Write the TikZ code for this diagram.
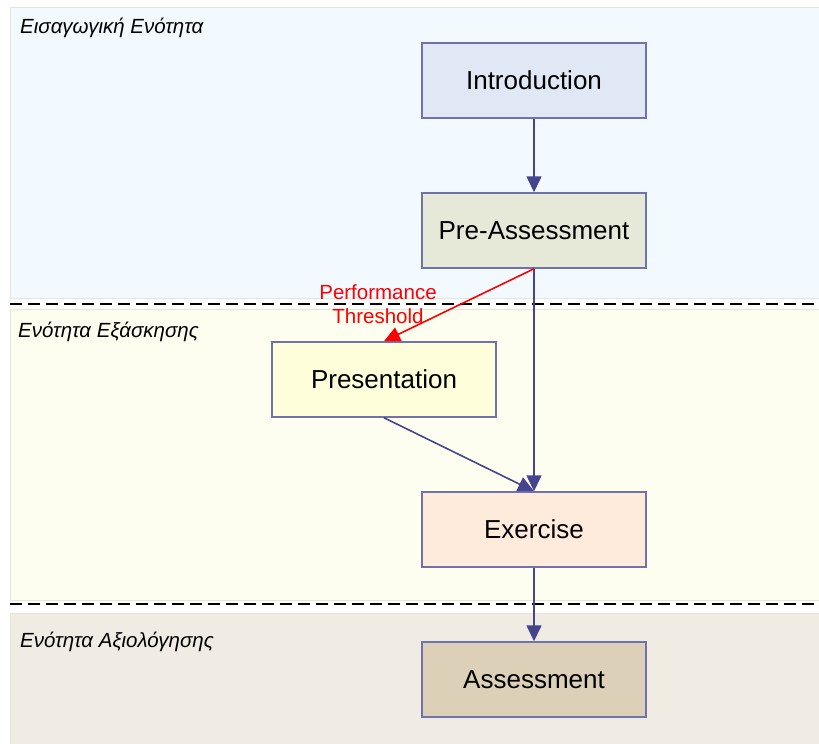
\documentclass[tikz,border=0pt]{standalone}
\usepackage{fontspec}
\setmainfont{Liberation Sans}
\usetikzlibrary{arrows.meta}
\definecolor{edgeblue}{HTML}{45458F}
\definecolor{boxline}{HTML}{7272AA}
\definecolor{secA}{HTML}{F3FAFF}
\definecolor{secB}{HTML}{FEFEF0}
\definecolor{secC}{HTML}{F0ECE3}
\definecolor{secline}{HTML}{E2E8D8}
\definecolor{fIntro}{HTML}{E0E8F6}
\definecolor{fPre}{HTML}{E6E8D8}
\definecolor{fPres}{HTML}{FEFEDA}
\definecolor{fEx}{HTML}{FFEBDC}
\definecolor{fAss}{HTML}{DCD0B8}
\tikzset{
  stepbox/.style={draw=boxline, line width=1.5pt, minimum width=224pt, minimum height=75pt,
    inner sep=0pt, font=\fontsize{26}{30}\selectfont},
  flow/.style={draw=edgeblue, line width=1.6pt, -{Triangle[length=16pt,width=15pt]}},
  redflow/.style={draw=red, line width=1.6pt, -{Triangle[length=16pt,width=15pt]}},
  seclabel/.style={anchor=base west, inner sep=0pt, font=\fontsize{20.5}{24}\selectfont\itshape},
  divider/.style={draw=black, line width=2pt, dash pattern=on 12pt off 6pt}
}
\begin{document}
\begin{tikzpicture}[x=1pt,y=-1pt]
\useasboundingbox (0,0) rectangle (819,744);
\fill[white] (0,0) rectangle (819,744);
% sections
\filldraw[fill=secA, draw=secline, line width=1pt] (10,7) rectangle (830,298);
\filldraw[fill=secB, draw=secline, line width=1pt] (10,309) rectangle (830,600);
\filldraw[fill=secC, draw=secline, line width=1pt] (10,613) rectangle (830,750);
\draw[divider] (10,304) -- (819,304);
\draw[divider] (10,604) -- (819,604);
% section labels
\node[seclabel] (labA) at (20,33) {Εισαγωγική Ενότητα};
\node[seclabel] (labB) at (18,337) {Ενότητα Εξάσκησης};
\node[seclabel] (labC) at (20,647) {Ενότητα Αξιολόγησης};
% nodes
\node[stepbox, fill=fIntro] (intro) at (534,80.5) {Introduction};
\node[stepbox, fill=fPre] (pre) at (534,230.5) {Pre-Assessment};
\node[stepbox, fill=fPres] (pres) at (384,379.5) {Presentation};
\node[stepbox, fill=fEx] (ex) at (534,529.5) {Exercise};
\node[stepbox, fill=fAss] (ass) at (534,679.5) {Assessment};
% connectors
\draw[flow] (intro) -- (pre);
\draw[flow] (pre.south) -- (ex.north);
\draw[redflow] (pre.south) -- (pres.north);
\draw[flow] (pres.south) -- (ex.north);
\draw[flow] (ex) -- (ass);
% label
\node[text=red, align=center, font=\fontsize{20.5}{24.5}\selectfont, inner sep=0pt] (thr) at (378,304) {Performance\\Threshold};
\end{tikzpicture}
\end{document}
